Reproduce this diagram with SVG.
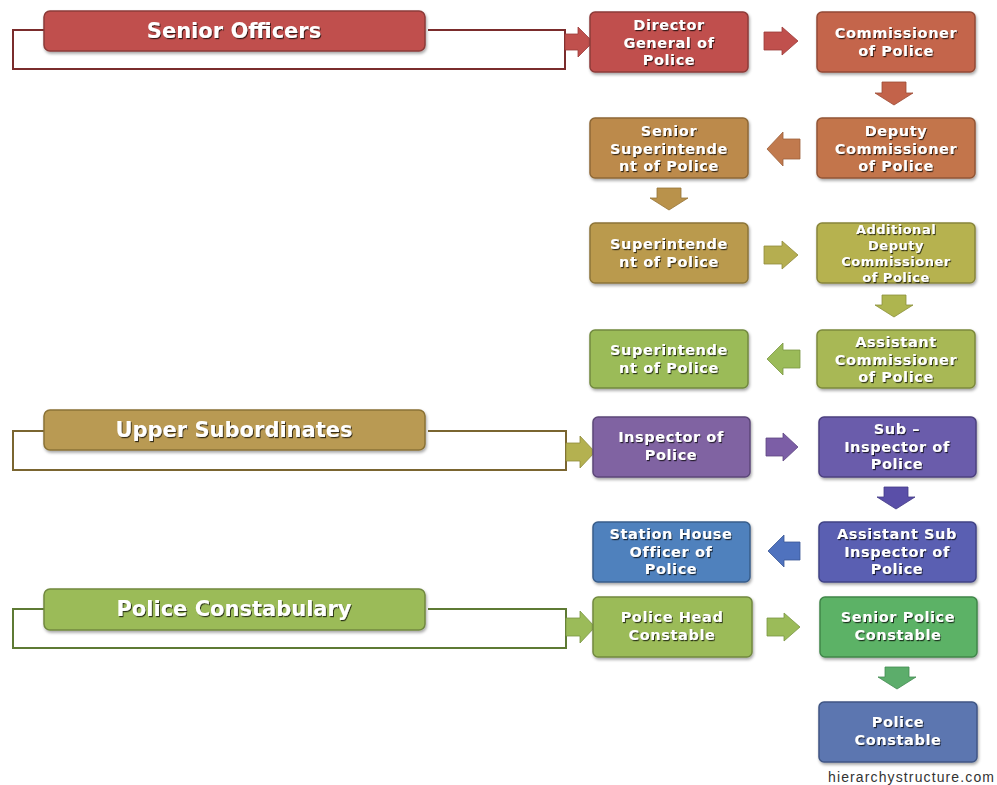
<svg xmlns="http://www.w3.org/2000/svg" width="997" height="785" viewBox="0 0 997 785">
<defs>
<filter id="bs" x="-10%" y="-10%" width="130%" height="140%"><feDropShadow dx="1" dy="2" stdDeviation="1.5" flood-color="#000" flood-opacity="0.35"/></filter>
<filter id="ts" x="-10%" y="-20%" width="130%" height="160%"><feDropShadow dx="1" dy="1.2" stdDeviation="0.7" flood-color="#000" flood-opacity="0.7"/></filter>
</defs>
<style>
.box{stroke-width:1.5;filter:url(#bs)}
.t{font-family:"DejaVu Sans",Verdana,sans-serif;font-weight:bold;font-size:14.5px;letter-spacing:0.6px;fill:#fff;text-anchor:middle;filter:url(#ts)}
.t4{font-size:13px;letter-spacing:0.5px}
.h{font-family:"DejaVu Sans",Verdana,sans-serif;font-weight:bold;font-size:21px;fill:#fff;text-anchor:middle;filter:url(#ts)}
.br{fill:none;stroke-width:2}
.ar{stroke-width:0.8}
</style>
<rect width="997" height="785" fill="#fff"/>

<g id="connectors">
<path class="br" stroke="#7A2C2C" d="M44,30 H13 V69 H565 V30 H428"/>
<path class="br" stroke="#7A6530" d="M44,431 H13 V470 H566 V431 H428"/>
<path class="br" stroke="#5E7A34" d="M44,609 H13 V648 H566 V609 H428"/>
<path class="ar" fill="#C0504D" stroke="#9A3A38" d="M565,34 H578 V27 L593,42 L578,57 V50 H565 Z"/>
<path class="ar" fill="#C0504D" stroke="#9A3A38" d="M764,32 H782 V27 L798,41 L782,55 V50 H764 Z"/>
<path class="ar" fill="#C3634A" stroke="#9C4B36" d="M882,82 H906 V93 H913 L894,105 L875,93 H882 Z"/>
<path class="ar" fill="#C17A4E" stroke="#9C5F3B" d="M800,139 H783 V132 L767,149 L783,166 V159 H800 Z"/>
<path class="ar" fill="#B9924B" stroke="#957437" d="M657,188 H681 V198 H688 L669,210 L650,198 H657 Z"/>
<path class="ar" fill="#B5AE50" stroke="#918A3B" d="M764,246 H782 V241 L798,255 L782,269 V264 H764 Z"/>
<path class="ar" fill="#AEB54F" stroke="#8B913A" d="M882,295 H906 V305 H913 L894,317 L875,305 H882 Z"/>
<path class="ar" fill="#9BBB59" stroke="#7A9542" d="M800,350 H783 V343 L767,359 L783,375 V368 H800 Z"/>
<path class="ar" fill="#B4B150" stroke="#8F8C3B" d="M566,443 H580 V436 L595,452 L580,468 V461 H566 Z"/>
<path class="ar" fill="#7C5EA6" stroke="#5E4582" d="M766,438 H783 V433 L798,447 L783,461 V456 H766 Z"/>
<path class="ar" fill="#5A4FA8" stroke="#433A85" d="M884,487 H908 V497 H915 L896,509 L877,497 H884 Z"/>
<path class="ar" fill="#4F72BE" stroke="#3A5796" d="M800,542 H784 V535 L768,551 L784,567 V560 H800 Z"/>
<path class="ar" fill="#9BBB59" stroke="#7A9542" d="M566,618 H580 V611 L595,627 L580,643 V636 H566 Z"/>
<path class="ar" fill="#9BBB59" stroke="#7A9542" d="M767,618 H784 V613 L800,627 L784,641 V636 H767 Z"/>
<path class="ar" fill="#5CAD6B" stroke="#438A52" d="M885,667 H909 V677 H916 L897,689 L878,677 H885 Z"/>
</g>

<g id="senior-officers">
<rect class="box" x="44" y="11" width="381" height="40" rx="6" fill="#C0504D" stroke="#8C3A38"/>
<text class="h" x="234" y="38">Senior Officers</text>
</g>
<g id="upper-subordinates">
<rect class="box" x="44" y="410" width="381" height="40" rx="6" fill="#B99A52" stroke="#8A7236"/>
<text class="h" x="234" y="437">Upper Subordinates</text>
</g>
<g id="police-constabulary">
<rect class="box" x="44" y="589" width="381" height="41" rx="6" fill="#9BBB59" stroke="#71893F"/>
<text class="h" x="234" y="616">Police Constabulary</text>
</g>

<g id="dgp">
<rect class="box" x="590" y="12" width="158" height="60" rx="5" fill="#C0504D" stroke="#8C3A38"/>
<text class="t" x="669" y="30">Director</text>
<text class="t" x="669" y="47.5">General of</text>
<text class="t" x="669" y="65">Police</text>
</g>
<g id="commissioner">
<rect class="box" x="817" y="12" width="158" height="60" rx="5" fill="#C4654B" stroke="#934A36"/>
<text class="t" x="896" y="38">Commissioner</text>
<text class="t" x="896" y="55.5">of Police</text>
</g>
<g id="deputy-commissioner">
<rect class="box" x="817" y="118" width="158" height="60" rx="5" fill="#C3754B" stroke="#935636"/>
<text class="t" x="896" y="136">Deputy</text>
<text class="t" x="896" y="153.5">Commissioner</text>
<text class="t" x="896" y="171">of Police</text>
</g>
<g id="ssp">
<rect class="box" x="590" y="118" width="158" height="60" rx="5" fill="#BC8A4C" stroke="#8E6836"/>
<text class="t" x="669" y="136">Senior</text>
<text class="t" x="669" y="153.5">Superintende</text>
<text class="t" x="669" y="171">nt of Police</text>
</g>
<g id="sp">
<rect class="box" x="590" y="223" width="158" height="60" rx="5" fill="#BA9A4E" stroke="#8C7438"/>
<text class="t" x="669" y="249">Superintende</text>
<text class="t" x="669" y="266.5">nt of Police</text>
</g>
<g id="adcp">
<rect class="box" x="817" y="223" width="158" height="60" rx="5" fill="#B6B250" stroke="#88853A"/>
<text class="t t4" x="896" y="234">Additional</text>
<text class="t t4" x="896" y="250">Deputy</text>
<text class="t t4" x="896" y="266">Commissioner</text>
<text class="t t4" x="896" y="282">of Police</text>
</g>
<g id="sp2">
<rect class="box" x="590" y="330" width="158" height="58" rx="5" fill="#9BBB59" stroke="#71893F"/>
<text class="t" x="669" y="355">Superintende</text>
<text class="t" x="669" y="372.5">nt  of Police</text>
</g>
<g id="acp">
<rect class="box" x="817" y="330" width="158" height="58" rx="5" fill="#A8B854" stroke="#7C893C"/>
<text class="t" x="896" y="347">Assistant</text>
<text class="t" x="896" y="364.5">Commissioner</text>
<text class="t" x="896" y="382">of Police</text>
</g>
<g id="inspector">
<rect class="box" x="593" y="417" width="157" height="60" rx="5" fill="#8064A2" stroke="#5C4778"/>
<text class="t" x="671" y="442">Inspector of</text>
<text class="t" x="671" y="459.5">Police</text>
</g>
<g id="sub-inspector">
<rect class="box" x="819" y="417" width="157" height="60" rx="5" fill="#6B5BAB" stroke="#4C407F"/>
<text class="t" x="897" y="434">Sub –</text>
<text class="t" x="897" y="451.5">Inspector of</text>
<text class="t" x="897" y="469">Police</text>
</g>
<g id="sho">
<rect class="box" x="593" y="522" width="157" height="60" rx="5" fill="#4F81BD" stroke="#385D8A"/>
<text class="t" x="671" y="539">Station House</text>
<text class="t" x="671" y="556.5">Officer of</text>
<text class="t" x="671" y="574">Police</text>
</g>
<g id="asi">
<rect class="box" x="819" y="522" width="157" height="60" rx="5" fill="#5A5EB2" stroke="#404385"/>
<text class="t" x="897" y="539">Assistant Sub</text>
<text class="t" x="897" y="556.5">Inspector of</text>
<text class="t" x="897" y="574">Police</text>
</g>
<g id="phc">
<rect class="box" x="593" y="597" width="159" height="60" rx="5" fill="#9BBB59" stroke="#71893F"/>
<text class="t" x="672" y="622">Police Head</text>
<text class="t" x="672" y="639.5">Constable</text>
</g>
<g id="spc">
<rect class="box" x="820" y="597" width="157" height="60" rx="5" fill="#5BB266" stroke="#41864A"/>
<text class="t" x="898" y="622">Senior Police</text>
<text class="t" x="898" y="639.5">Constable</text>
</g>
<g id="pc">
<rect class="box" x="819" y="702" width="158" height="60" rx="5" fill="#5B76B0" stroke="#405684"/>
<text class="t" x="898" y="727">Police</text>
<text class="t" x="898" y="744.5">Constable</text>
</g>

<text x="828" y="782" font-family="'Liberation Sans',Arial,sans-serif" font-size="14" fill="#333" textLength="166" lengthAdjust="spacing">hierarchystructure.com</text>
</svg>
